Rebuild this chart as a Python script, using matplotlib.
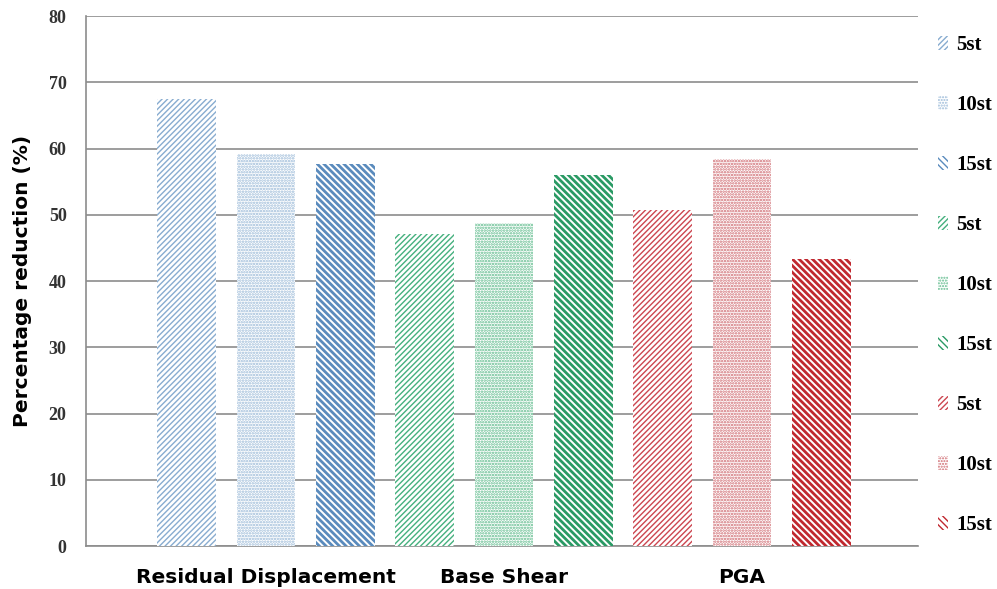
import matplotlib
matplotlib.use("Agg")
import matplotlib.pyplot as plt

# data
categories = ['Residual Displacement', 'Base Shear', 'PGA']
labels = ['5st', '10st', '15st'] * 3
values = [67.4, 59.1, 57.7, 47.1, 48.8, 56.0, 50.7, 58.4, 43.3]
colors = ['#88acd0', '#9bbad8', '#5a8bbd',
          '#45b07e', '#5fbb8c', '#2a9a64',
          '#cc4650', '#cf6a70', '#c0282f']
hatches = ['//////', '......', '\\\\\\\\\\'] * 3
hatch_lw = [1.0, 1.2, 2.0] * 3

fig = plt.figure(figsize=(9.97, 5.89), dpi=100)
ax = fig.add_axes([0.0863, 0.073, 0.8345, 0.8998])

handles = []
for i in range(len(values)):
    with plt.rc_context({'hatch.linewidth': hatch_lw[i]}):
        b = ax.bar(i, values[i], width=0.74, color='white', edgecolor=colors[i],
                   linewidth=0, hatch=hatches[i], label=labels[i], zorder=3)
    handles.append(b)

ax.set_xlim(-1.27, 9.22)
ax.set_ylim(0, 80)
ax.set_yticks(range(0, 81, 10))
ax.set_xticks([1, 4, 7])
ax.set_xticklabels(categories, fontsize=14.5, fontweight='bold', family='DejaVu Sans')
ax.tick_params(axis='x', length=0, pad=16)
ax.tick_params(axis='y', length=0, pad=14)
for t in ax.get_yticklabels():
    t.set_family('Liberation Serif')
    t.set_fontweight('bold')
    t.set_fontsize(13)
    t.set_color('#333333')

ax.yaxis.grid(True, color='#8c8c8c', linewidth=1.2, zorder=0)
ax.set_axisbelow(True)
for s in ['top', 'right']:
    ax.spines[s].set_visible(False)
ax.spines['left'].set_color('#8c8c8c')
ax.spines['bottom'].set_color('#8c8c8c')
ax.spines['left'].set_linewidth(1.2)
ax.spines['bottom'].set_linewidth(1.2)

ax.set_ylabel('Percentage reduction (%)', fontsize=14.5, fontweight='bold', labelpad=12)

fig.legend(handles=handles, labels=labels, loc='upper left',
           bbox_to_anchor=(0.941, 0.94), frameon=False, borderpad=0,
           borderaxespad=0,
           prop={'family': 'Liberation Serif', 'weight': 'bold', 'size': 15},
           handlelength=0.45, handleheight=0.7, handletextpad=0.4,
           labelspacing=1.92)

fig.savefig('out.png', dpi=100)
